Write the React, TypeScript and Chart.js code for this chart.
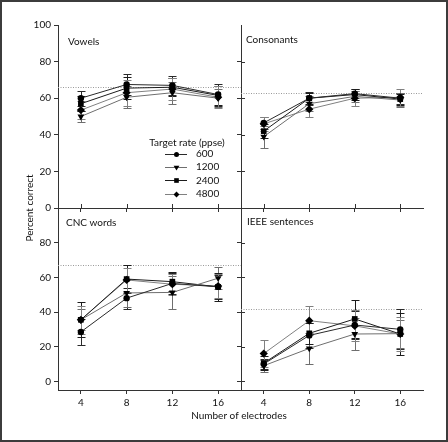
import React, { useEffect, useRef } from "react";
import { Chart, registerables } from "chart.js";

Chart.register(...registerables);

// ---------------- data ----------------
const electrodes = [4, 8, 12, 16];
const rateLabels = ["600", "1200", "2400", "4800"];
const legendTitle = "Target rate (ppse)";
const yTicksFull = [0, 20, 40, 60, 80, 100];
const yTicksShort = [0, 20, 40, 60, 80];
const panelTitles = ["Vowels", "Consonants", "CNC words", "IEEE sentences"];
const referenceLevels = [66, 63, 67, 42];
const yAxisTitle = "Percent correct";
const xAxisTitle = "Number of electrodes";

// rows: 600, 1200, 2400, 4800
const vowelsMean = [
  [60, 67.5, 67, 62],
  [50, 60.5, 63, 60],
  [57, 65.5, 66, 61.5],
  [53.5, 63, 65, 60.5],
];
const vowelsErr = [
  [4, 5.5, 5, 6],
  [3, 6, 6, 5],
  [4, 6, 5, 5],
  [5, 7, 6, 6],
];
const consonantsMean = [
  [46.5, 60, 62.5, 60],
  [39, 57, 61, 59],
  [42, 60, 62, 59.5],
  [46, 54, 60, 60.5],
];
const consonantsErr = [
  [3.5, 3.5, 2.5, 3],
  [6, 4, 3, 4],
  [4, 3, 3, 3],
  [4, 4, 4, 4.5],
];
const cncMean = [
  [28.5, 48, 56.5, 54.5],
  [35.5, 51, 51.3, 59.5],
  [35.5, 59, 57.5, 54.5],
  [35.5, 58.5, 56, 55],
];
const cncErr = [
  [7.5, 6, 6, 7],
  [6, 8, 9.5, 6.5],
  [10, 8, 5.5, 8],
  [8, 7, 6, 7],
];
const ieeeMean = [
  [10, 26.5, 32.5, 30],
  [9, 19, 27.3, 27.5],
  [10.5, 27.7, 36, 27.3],
  [16, 35, 32, 27.3],
];
const ieeeErr = [
  [3, 7, 8, 11.5],
  [3.5, 9, 9, 8],
  [4, 6, 11, 12],
  [8, 8.5, 9, 10],
];

const panelMeans = [vowelsMean, consonantsMean, cncMean, ieeeMean];
const panelErrs = [vowelsErr, consonantsErr, cncErr, ieeeErr];

// ---------------- styling / layout ----------------
const W = 448;
const H = 442;
const FONT = "Lato, 'Liberation Sans', sans-serif";
const FS = 10;
const AXIS = "#333333";
const markerStyles = ["circle", "triangle", "rect", "rectRot"];
const markerRotation = [0, 180, 0, 0];
const markerRadius = [3.2, 3.9, 4, 4.1];
const lineColors = ["#2a2a2a", "#6e6e6e", "#1c1c1c", "#808080"];
const COL_X = [58, 241, 423];
const ROW_Y = [25, 208, 390];
const titleOffsetX = [10, 5, 8, 6];
const titleOffsetY = [17, 14.5, 14.5, 14];

function drawMarker(ctx: CanvasRenderingContext2D, style: string, x: number, y: number, r: number) {
  ctx.beginPath();
  if (style === "circle") ctx.arc(x, y, r, 0, Math.PI * 2);
  else if (style === "triangle") {
    ctx.moveTo(x - r, y - r * 0.6);
    ctx.lineTo(x + r, y - r * 0.6);
    ctx.lineTo(x, y + r);
    ctx.closePath();
  } else if (style === "rect") ctx.rect(x - r * 0.8, y - r * 0.8, r * 1.6, r * 1.6);
  else {
    ctx.moveTo(x, y - r);
    ctx.lineTo(x + r, y);
    ctx.lineTo(x, y + r);
    ctx.lineTo(x - r, y);
    ctx.closePath();
  }
  ctx.fill();
}

const figurePlugin = {
  id: "figure",
  beforeDatasetsDraw(chart: any) {
    const o = chart.options.plugins.figure;
    const { ctx, chartArea } = chart;
    const xs = chart.scales.x;
    const ys = chart.scales.y;
    ctx.save();
    // reference (dotted) line
    const ry = Math.round(ys.getPixelForValue(o.ref)) + 0.5;
    ctx.strokeStyle = "#9a9a9a";
    ctx.lineWidth = 1;
    ctx.setLineDash([1, 1.5]);
    ctx.beginPath();
    ctx.moveTo(chartArea.left, ry);
    ctx.lineTo(chartArea.right, ry);
    ctx.stroke();
    ctx.setLineDash([]);
    // error bars
    chart.data.datasets.forEach((ds: any, i: number) => {
      ctx.strokeStyle = lineColors[i];
      ds.data.forEach((p: any, j: number) => {
        const e = ds.errors[j];
        const px = Math.round(xs.getPixelForValue(p.x)) + 0.5;
        const t = Math.round(ys.getPixelForValue(p.y + e)) + 0.5;
        const b = Math.round(ys.getPixelForValue(p.y - e)) + 0.5;
        ctx.beginPath();
        ctx.moveTo(px, t);
        ctx.lineTo(px, b);
        ctx.moveTo(px - 4, t);
        ctx.lineTo(px + 4, t);
        ctx.moveTo(px - 4, b);
        ctx.lineTo(px + 4, b);
        ctx.stroke();
      });
    });
    ctx.restore();
  },
  afterDraw(chart: any) {
    const o = chart.options.plugins.figure;
    const { ctx, chartArea } = chart;
    const xs = chart.scales.x;
    const ys = chart.scales.y;
    ctx.save();
    // inner halves of crossing ticks
    ctx.strokeStyle = AXIS;
    ctx.lineWidth = 1;
    ctx.beginPath();
    if (o.innerY) {
      ys.ticks.forEach((t: any) => {
        const py = Math.round(ys.getPixelForValue(t.value)) + 0.5;
        ctx.moveTo(chartArea.left, py);
        ctx.lineTo(chartArea.left + 4, py);
      });
    }
    if (o.innerX) {
      xs.ticks.forEach((t: any) => {
        const px = Math.round(xs.getPixelForValue(t.value)) + 0.5;
        ctx.moveTo(px, chartArea.bottom);
        ctx.lineTo(px, chartArea.bottom - 4);
      });
    }
    ctx.stroke();
    // panel title
    ctx.fillStyle = "#111";
    ctx.font = `${FS}px ${FONT}`;
    ctx.textBaseline = "middle";
    ctx.textAlign = "left";
    ctx.fillText(o.title, chartArea.left + o.tx, chartArea.top + o.ty);
    if (o.legend) {
      ctx.textAlign = "center";
      ctx.fillText(legendTitle, 187, 142.7);
      ctx.textAlign = "left";
      rateLabels.forEach((lab, i) => {
        const y = 154 + i * 13.2;
        ctx.strokeStyle = lineColors[i];
        ctx.beginPath();
        ctx.moveTo(165, Math.round(y) + 0.5);
        ctx.lineTo(187, Math.round(y) + 0.5);
        ctx.stroke();
        ctx.fillStyle = "#000";
        drawMarker(ctx, markerStyles[i], 176.5, Math.round(y) + 0.5, i === 0 ? 2.5 : 2.9);
        ctx.fillStyle = "#111";
        ctx.fillText(lab, 196, y);
      });
    }
    if (o.axisTitles) {
      ctx.fillStyle = "#111";
      ctx.textAlign = "center";
      ctx.fillText(xAxisTitle, 239, 416);
      ctx.translate(30, 208);
      ctx.rotate(-Math.PI / 2);
      ctx.fillText(yAxisTitle, 0, 0);
    }
    ctx.restore();
  },
};

function buildConfig(k: number): any {
  const c = k % 2;
  const r = Math.floor(k / 2);
  const left = COL_X[c];
  const right = COL_X[c + 1];
  const top = ROW_Y[r];
  const bottom = ROW_Y[r + 1];
  const isLeft = c === 0;
  const isBottom = r === 1;
  const yW = isLeft ? 40 : 6;
  const xH = isBottom ? 22 : 8;
  const yTicks = isLeft && !isBottom ? yTicksFull : yTicksShort;

  const datasets = rateLabels.map((lab, i) => ({
    label: lab,
    data: electrodes.map((x, j) => ({ x, y: panelMeans[k][i][j] })),
    errors: panelErrs[k][i],
    showLine: true,
    borderColor: lineColors[i],
    borderWidth: 1,
    pointStyle: markerStyles[i],
    rotation: markerRotation[i],
    pointRadius: markerRadius[i],
    pointBackgroundColor: "#000",
    pointBorderColor: "#000",
    pointBorderWidth: 0,
    tension: 0,
    fill: false,
  }));

  return {
    type: "scatter",
    data: { datasets },
    options: {
      responsive: false,
      animation: false,
      devicePixelRatio: 1,
      events: [],
      layout: {
        padding: { left: left - yW, right: W - right, top, bottom: H - bottom - xH },
      },
      plugins: {
        legend: { display: false },
        tooltip: { enabled: false },
        figure: {
          ref: referenceLevels[k],
          title: panelTitles[k],
          tx: titleOffsetX[k],
          ty: titleOffsetY[k],
          innerY: !isLeft,
          innerX: !isBottom,
          legend: k === 0,
          axisTitles: k === 0,
        },
      },
      scales: {
        x: {
          type: "linear",
          position: "bottom",
          min: 2,
          max: 18,
          afterFit: (s: any) => {
            s.height = xH;
          },
          afterBuildTicks: (s: any) => {
            s.ticks = electrodes.map((v) => ({ value: v }));
          },
          ticks: { display: isBottom, font: { family: FONT, size: FS }, color: "#111", padding: 3 },
          grid: { display: true, drawOnChartArea: false, drawTicks: true, tickLength: 4, color: AXIS, lineWidth: 1 },
          border: { display: true, color: AXIS, width: 1 },
        },
        y: {
          type: "linear",
          position: "left",
          min: isBottom ? -5 : 0,
          max: 100,
          afterFit: (s: any) => {
            s.width = yW;
          },
          afterBuildTicks: (s: any) => {
            s.ticks = yTicks.map((v) => ({ value: v }));
          },
          ticks: { display: isLeft, font: { family: FONT, size: FS }, color: "#111", padding: 3 },
          grid: { display: true, drawOnChartArea: false, drawTicks: true, tickLength: 4, color: AXIS, lineWidth: 1 },
          border: { display: true, color: AXIS, width: 1 },
        },
      },
    },
    plugins: [figurePlugin],
  };
}

export default function App() {
  const refs = useRef<(HTMLCanvasElement | null)[]>([]);
  useEffect(() => {
    const charts = [0, 1, 2, 3].map((k) => new Chart(refs.current[k] as HTMLCanvasElement, buildConfig(k)));
    return () => charts.forEach((ch) => ch.destroy());
  }, []);
  return (
    <div style={{ position: "fixed", left: 0, top: 0, width: W, height: H, background: "#fff" }}>
      {[0, 1, 2, 3].map((k) => (
        <canvas
          key={k}
          ref={(el) => {
            refs.current[k] = el;
          }}
          width={W}
          height={H}
          style={{ position: "absolute", left: 0, top: 0, width: W, height: H }}
        />
      ))}
      <div
        style={{
          position: "absolute",
          left: 0,
          top: 0,
          width: W,
          height: H,
          boxSizing: "border-box",
          border: "2px solid #3c3c3c",
          pointerEvents: "none",
        }}
      />
    </div>
  );
}
